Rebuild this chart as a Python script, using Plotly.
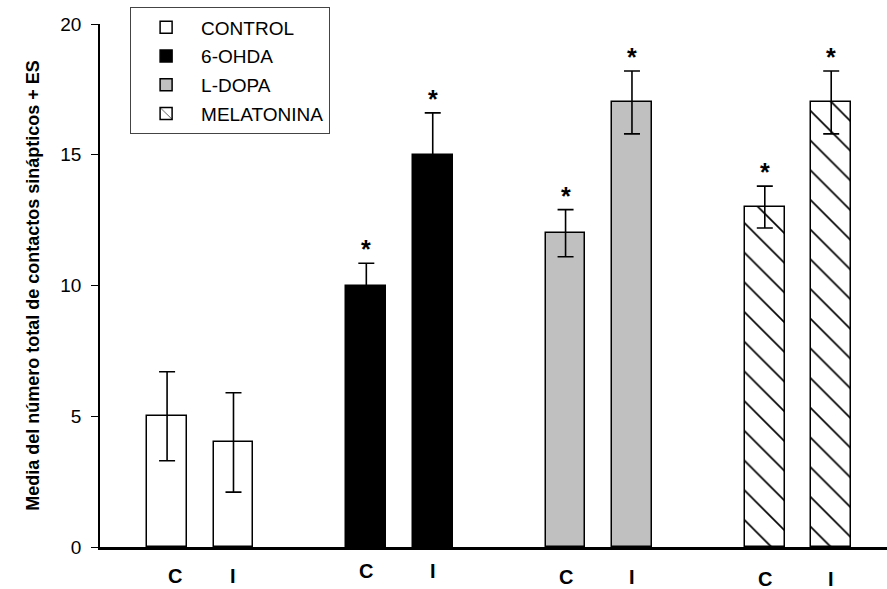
import plotly.graph_objects as go

groups = ["CONTROL", "6-OHDA", "L-DOPA", "MELATONINA"]
sides = ["C", "I"]
means = {
    "CONTROL": [5, 4],
    "6-OHDA": [10, 15],
    "L-DOPA": [12, 17],
    "MELATONINA": [13, 17],
}
errors = {
    "CONTROL": [1.7, 1.9],
    "6-OHDA": [0.85, 1.6],
    "L-DOPA": [0.9, 1.2],
    "MELATONINA": [0.8, 1.2],
}
significant = {
    "CONTROL": [False, False],
    "6-OHDA": [True, True],
    "L-DOPA": [True, True],
    "MELATONINA": [True, True],
}
y_ticks = [0, 5, 10, 15, 20]
y_title = "Media del número total de contactos sinápticos + ES"

styles = {
    "CONTROL": dict(color="white", pattern=dict(shape="")),
    "6-OHDA": dict(color="black", pattern=dict(shape="")),
    "L-DOPA": dict(color="#c0c0c0", pattern=dict(shape="")),
    "MELATONINA": dict(color="white", pattern=dict(shape="\\", fgcolor="black", fgopacity=1,
                                                   bgcolor="white", size=21, solidity=0.08)),
}
label_y = [-0.056, -0.046, -0.058, -0.062]

FONT = "Liberation Sans, Arial, sans-serif"
fig = go.Figure()
annotations = []
for g, name in enumerate(groups):
    xs = [3 * g + m for m in range(len(sides))]
    st = styles[name]
    fig.add_trace(go.Bar(
        x=xs, y=means[name], name=name, width=0.6, legendgroup=name,
        marker=dict(color=st["color"], pattern=st["pattern"],
                    line=dict(color="black", width=1.5)),
        error_y=dict(type="data", array=errors[name], visible=True,
                     color="black", thickness=1.6, width=8),
    ))
    for m, x in enumerate(xs):
        if significant[name][m]:
            annotations.append(dict(x=x, y=means[name][m] + errors[name][m], xref="x", yref="y",
                                    text="<b>*</b>", showarrow=False, yshift=14,
                                    font=dict(size=25, family=FONT, color="black")))
        annotations.append(dict(x=x + (0.12 if m == 0 and g == 0 else 0), y=label_y[g],
                                xref="x", yref="paper", yanchor="middle",
                                text="<b>%s</b>" % sides[m], showarrow=False,
                                font=dict(size=20, family=FONT, color="black")))

fig.update_layout(
    width=887, height=589,
    margin=dict(l=100, r=0, t=24, b=42),
    plot_bgcolor="white", paper_bgcolor="white",
    bargap=0, barmode="overlay",
    font=dict(family=FONT, color="black"),
    showlegend=True,
    legend=dict(x=0.038, y=1.032, xanchor="left", yanchor="top",
                bordercolor="#444444", borderwidth=1.2, bgcolor="white",
                font=dict(size=19, family=FONT), tracegroupgap=1,
                itemwidth=60),
    annotations=annotations,
    xaxis=dict(range=[-1.01, 10.84], showticklabels=False, ticks="",
               showline=True, linecolor="black", linewidth=2.5,
               showgrid=False, zeroline=False),
    yaxis=dict(range=[0, 20], tickvals=y_ticks, ticks="outside", ticklen=7,
               tickcolor="black", tickwidth=1.2, ticklabelstandoff=6,
               showline=True, linecolor="black", linewidth=1.5,
               showgrid=False, zeroline=False,
               tickfont=dict(size=19, family=FONT),
               title=dict(text="<b>%s</b>" % y_title, font=dict(size=18, family=FONT),
                          standoff=16)),
)
fig.write_html("out.html")
